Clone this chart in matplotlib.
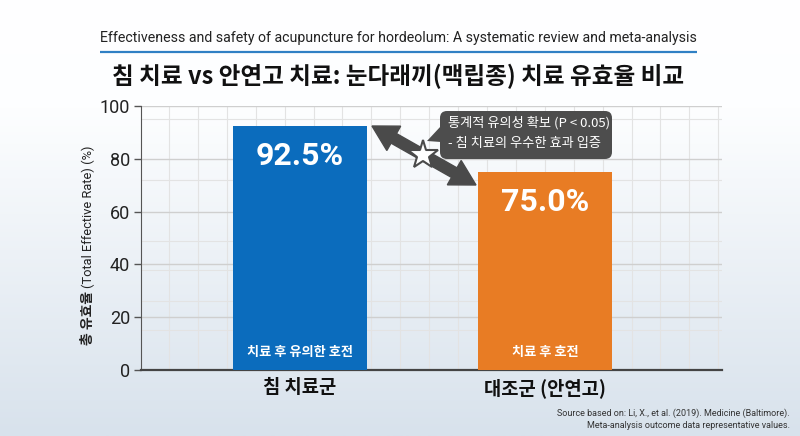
import numpy as np
import matplotlib
matplotlib.use("Agg")
import matplotlib.pyplot as plt
from matplotlib.patches import FancyBboxPatch, Polygon
from matplotlib.colors import LinearSegmentedColormap

plt.rcParams['font.family'] = ['Noto Sans CJK KR', 'DejaVu Sans']

# ---- data ----
categories = ["침 치료군", "대조군 (안연고)"]
values = [92.5, 75.0]
inner_labels = ["치료 후 유의한 호전", "치료 후 호전"]
bar_colors = ["#0b6cbd", "#e87c24"]
yticks = [0, 20, 40, 60, 80, 100]
subtitle = "Effectiveness and safety of acupuncture for hordeolum: A systematic review and meta-analysis"
title = "침 치료 vs 안연고 치료: 눈다래끼(맥립종) 치료 유효율 비교"
ylabel_ko = "총 유효율"
ylabel_en = "(Total Effective Rate) (%)"
note_lines = ["통계적 유의성 확보 (P < 0.05)", "- 침 치료의 우수한 효과 입증"]
source_lines = ["Source based on: Li, X., et al. (2019). Medicine (Baltimore).",
                "Meta-analysis outcome data representative values."]

W, H = 800, 436
fig = plt.figure(figsize=(W / 100, H / 100), dpi=100)

# background gradient
bg = fig.add_axes([0, 0, 1, 1], zorder=-10)
grad = np.linspace(0, 1, 256).reshape(-1, 1)
cmap = LinearSegmentedColormap.from_list("bg", [(0, "#ffffff"), (0.25, "#fdfeff"), (1.0, "#d8e2ec")])
bg.imshow(grad, aspect="auto", cmap=cmap, extent=[0, 1, 0, 1], origin="upper")
bg.axis("off")

# main axes
ax = fig.add_axes([141 / W, 1 - 370 / H, (722 - 141) / W, (370 - 106) / H])
ax.patch.set_alpha(0)
x = np.arange(len(categories))
ax.bar(x, values, width=0.547, color=bar_colors, zorder=3)
ax.set_xlim(-0.649, 1.722)
ax.set_ylim(0, 100)
ax.set_yticks(yticks)
ax.set_yticklabels([str(t) for t in yticks], fontsize=13, color="#222222", family=["Roboto", "DejaVu Sans"])
ax.set_xticks(x)
ax.set_xticklabels(categories, fontsize=13.5, fontweight="bold", color="#111111")
ax.tick_params(axis="x", length=0, pad=6)
ax.tick_params(axis="y", length=5, width=1, color="#555555", pad=3)
# grid
ax.set_yticks([15, 26, 38, 49, 72, 95], minor=True)
ax.set_xticks(np.arange(-0.535, 1.72, 0.118), minor=True)
ax.tick_params(which="minor", length=0)
ax.grid(True, which="major", axis="y", color="#cfcfcf", lw=1.0, zorder=0)
ax.grid(True, which="minor", axis="both", color="#e3e3e3", lw=0.8, zorder=0)
ax.set_axisbelow(True)
for s in ["top", "right"]:
    ax.spines[s].set_visible(False)
ax.spines["left"].set_color("#555555")
ax.spines["bottom"].set_color("#444444")
ax.spines["bottom"].set_linewidth(1.6)

for i, v in enumerate(values):
    ax.text(i, v - 11.5, f"{v:.1f}%", ha="center", va="center", color="white",
            fontsize=23, fontweight="bold", zorder=5, family=["Roboto", "DejaVu Sans"])
    ax.text(i, 6.8, inner_labels[i], ha="center", va="center", color="white",
            fontsize=9.5, fontweight="bold", zorder=5)

# overlay in pixel coordinates
ov = fig.add_axes([0, 0, 1, 1], zorder=10)
ov.set_xlim(0, W)
ov.set_ylim(H, 0)
ov.axis("off")
ov.patch.set_alpha(0)

ov.text(398.5, 38, subtitle, ha="center", va="center", fontsize=10.2, color="#222222",
        family=["Roboto", "DejaVu Sans"])
ov.plot([100, 697], [52, 52], color="#2f80c4", lw=1.6, solid_capstyle="butt")
ov.text(398, 76, title, ha="center", va="center", fontsize=17, fontweight="black", color="#111111")

# y label
t_ko = ov.text(88, 345, ylabel_ko, rotation=90, ha="center", va="bottom", fontsize=10,
               fontweight="bold", color="#222222")
fig.canvas.draw()
bb = t_ko.get_window_extent().transformed(ov.transData.inverted())
top_px = min(bb.y0, bb.y1)
ov.text(88, top_px - 3, ylabel_en, rotation=90, ha="center", va="bottom", fontsize=9.3,
        color="#222222", family=["Roboto", "DejaVu Sans"])

# double-headed arrow
p1 = np.array([372.0, 126.0])
p2 = np.array([476.0, 185.0])
d = (p2 - p1) / np.linalg.norm(p2 - p1)
n = np.array([-d[1], d[0]])
hl, hw, sw = 25, 14, 5.5
a1 = p1 + d * hl
a2 = p2 - d * hl
pts = [p1, a1 + n * hw, a1 + n * sw, a2 + n * sw, a2 + n * hw, p2,
       a2 - n * hw, a2 - n * sw, a1 - n * sw, a1 - n * hw]
ov.add_patch(Polygon(pts, closed=True, color="#4a4a4a", zorder=5))

# callout box
ov.add_patch(FancyBboxPatch((440, 111), 172, 48, boxstyle="round,pad=0,rounding_size=7",
                            fc="#4d4d4d", ec="none", zorder=6))
ov.add_patch(Polygon([(441, 126), (441, 142), (427, 141)], closed=True, fc="#4d4d4d", ec="none", zorder=6))
ov.text(448, 123, note_lines[0], ha="left", va="center", fontsize=9.5, color="white", zorder=7)
ov.text(448, 143, note_lines[1], ha="left", va="center", fontsize=9.5, color="white", zorder=7)

# star
ov.plot([423], [155], marker="*", markersize=22, mfc="white", mec="#4a4a4a", mew=1.5, zorder=8)

# source
ov.text(790, 413, source_lines[0], ha="right", va="center", fontsize=6.5, color="#333333",
        family=["Roboto", "DejaVu Sans"])
ov.text(790, 425, source_lines[1], ha="right", va="center", fontsize=6.5, color="#333333",
        family=["Roboto", "DejaVu Sans"])

fig.savefig("out.png", dpi=100)
